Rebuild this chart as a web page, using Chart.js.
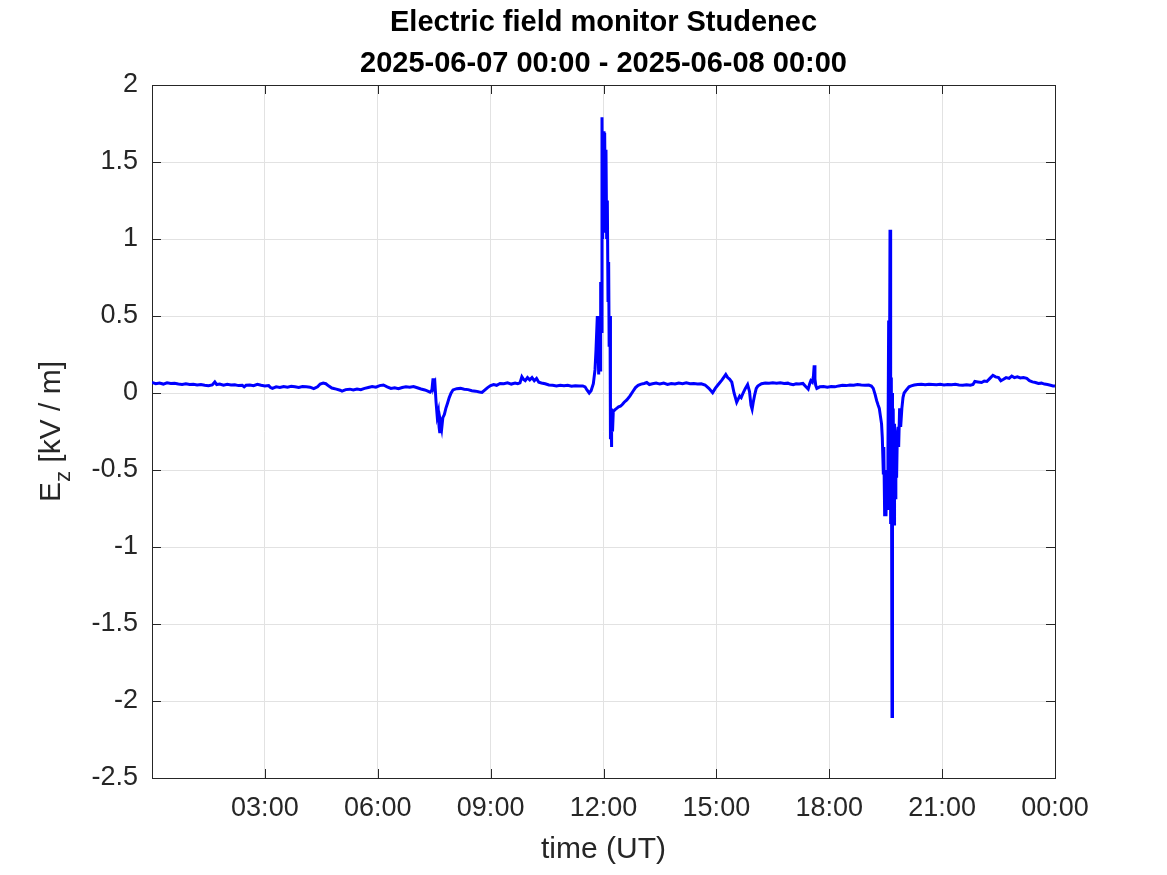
<!DOCTYPE html>
<html>
<head>
<meta charset="utf-8">
<script src="https://cdn.jsdelivr.net/npm/chart.js@4/dist/chart.umd.min.js"></script>
<style>
  html, body { margin: 0; padding: 0; background: #ffffff; }
  #wrap { width: 1167px; height: 875px; }
</style>
</head>
<body>
<div id="wrap"><canvas id="c" width="1167" height="875"></canvas></div>
<script>
// ---- data: [time in hours UT since 2025-06-07 00:00, Ez in kV/m] ----
const titleLines = ["Electric field monitor Studenec", "2025-06-07 00:00 - 2025-06-08 00:00"];
const xLabel = "time (UT)";
const yTickValues = [-2.5, -2, -1.5, -1, -0.5, 0, 0.5, 1, 1.5, 2];
const xTickHours = [3, 6, 9, 12, 15, 18, 21, 24];
const xTickLabels = ["03:00", "06:00", "09:00", "12:00", "15:00", "18:00", "21:00", "00:00"];

const nightSamples = [
  [0.0,.068],[0.1,.060],[0.2,.064],[0.3,.058],[0.4,.066],[0.5,.062],[0.6,.063],[0.7,.058],[0.8,.056],[0.9,.060],
  [1.0,.055],[1.1,.057],[1.2,.052],[1.3,.055],[1.4,.050],[1.5,.047],[1.6,.052],[1.67,.072],[1.72,.055],[1.8,.058],
  [1.9,.050],[2.0,.057],[2.1,.052],[2.2,.054],[2.3,.048],[2.4,.050],[2.45,.040],[2.5,.050],[2.6,.052],[2.7,.048],
  [2.8,.057],[2.9,.050],[3.0,.046],[3.1,.048],[3.15,.035],[3.2,.030],[3.3,.040],[3.4,.036],[3.5,.042],[3.6,.038],
  [3.7,.044],[3.8,.040],[3.9,.036],[4.0,.042],[4.1,.040],[4.2,.038],[4.3,.028],[4.4,.040],[4.47,.058],[4.55,.064],
  [4.62,.060],[4.7,.045],[4.78,.032],[4.9,.025],[5.0,.018],[5.05,.012],[5.15,.022],[5.26,.025],[5.35,.020],[5.45,.026],
  [5.55,.022],[5.65,.030],[5.75,.036],[5.85,.042],[5.95,.038],[6.05,.048],[6.15,.052],[6.25,.040],[6.35,.030],[6.45,.034],
  [6.55,.028],[6.65,.036],[6.75,.040],[6.85,.038],[6.95,.042],[7.05,.034],[7.15,.026],[7.25,.020],[7.33,.012],[7.39,.005]
];
const morningSamples = [
  [7.44,.020],[7.47,.095],[7.49,.040],[7.52,.060],[7.55,-.060],[7.58,-.150],[7.61,-.120],[7.63,-.220],[7.65,-.260],[7.67,-.190],
  [7.70,-.230],[7.73,-.160],[7.77,-.140],[7.81,-.100],[7.85,-.070],[7.90,-.030],[7.95,0.0],[8.00,.020],[8.10,.028],[8.20,.030],
  [8.30,.025],[8.40,.022],[8.50,.015],[8.60,.012],[8.70,.006],[8.77,.004],[8.85,.020],[8.92,.035],[9.00,.048],[9.08,.055],
  [9.16,.050],[9.25,.062],[9.35,.060],[9.45,.066],[9.55,.058],[9.65,.064],[9.72,.060],[9.78,.066],[9.83,.105],[9.87,.090],
  [9.92,.080],[9.98,.100],[10.04,.085],[10.10,.100],[10.16,.080],[10.22,.095],[10.28,.070],[10.35,.065],[10.45,.060],[10.55,.052],
  [10.65,.050],[10.75,.046],[10.85,.050],[10.95,.047],[11.05,.050],[11.15,.044],[11.25,.047],[11.35,.045],[11.45,.046],[11.51,.040],
  [11.56,.020],[11.62,.000],[11.67,.015],[11.73,.060]
];
const noonSamples = [
  [11.774,.15],[11.801,.28],[11.836,.50],[11.872,.12],[11.889,.50],[11.907,.15],[11.925,.72],[11.942,.40],[11.96,1.79],[11.978,1.00],
  [11.996,1.70],[12.013,1.04],[12.031,1.69],[12.048,1.20],[12.066,1.58],[12.084,1.00],[12.102,1.25],[12.12,.60],[12.137,.85],[12.15,.30],
  [12.173,.50],[12.18,.17],[12.19,-.30],[12.20,-.10],[12.21,-.35],[12.22,-.18],[12.24,-.25],[12.26,-.12],[12.30,-.11],[12.35,-.10],
  [12.40,-.09],[12.45,-.085],[12.50,-.075],[12.55,-.06],[12.62,-.045],[12.70,-.02],[12.78,.01],[12.85,.035],[12.92,.050],[13.0,.058],
  [13.08,.062],[13.15,.068],[13.22,.055],[13.30,.060],[13.40,.065],[13.50,.058],[13.60,.064],[13.70,.056],[13.80,.062],[13.90,.058],
  [14.00,.064],[14.10,.060],[14.20,.066],[14.30,.060],[14.40,.062],[14.50,.058],[14.60,.060],[14.70,.052]
];
const afternoonSamples = [
  [14.80,.030],[14.90,.002],[14.97,.030],[15.05,.055],[15.15,.085],[15.25,.120],[15.30,.100],[15.35,.090],[15.41,.070],[15.47,.000],
  [15.54,-.060],[15.58,-.040],[15.62,-.020],[15.66,-.030],[15.71,.000],[15.77,.030],[15.83,.055],[15.88,.010],[15.92,-.080],[15.95,-.105],
  [15.98,-.060],[16.02,-.010],[16.06,.030],[16.10,.045],[16.20,.060],[16.30,.065],[16.40,.064],[16.50,.066],[16.60,.064],[16.70,.066],
  [16.80,.062],[16.90,.064],[16.96,.058],[17.04,.054],[17.12,.060],[17.20,.058],[17.30,.062],[17.38,.040],[17.44,.025],[17.48,.060],
  [17.51,.080],[17.55,.070],[17.58,.110],[17.60,.180],[17.62,.090],[17.64,.050],[17.67,.030],[17.75,.040],[17.85,.042],[17.95,.038],
  [18.05,.042],[18.15,.040],[18.25,.046],[18.35,.050],[18.45,.048],[18.55,.052],[18.65,.050],[18.75,.055],[18.85,.052],[18.95,.050],
  [19.05,.052],[19.12,.045]
];
const eveningSamples = [
  [19.17,.030],[19.22,-.010],[19.26,-.050],[19.30,-.080],[19.33,-.100],[19.36,-.150],[19.39,-.200],[19.41,-.290],[19.437,-.520],[19.45,-.350],
  [19.473,-.800],[19.49,-.500],[19.508,-.800],[19.525,-.550],[19.544,-.750],[19.56,-.400],[19.579,.470],[19.59,-.700],[19.60,.000],[19.615,1.060],
  [19.624,-.750],[19.632,.590],[19.64,-.850],[19.65,.100],[19.668,-2.100],[19.676,.000],[19.686,-.890],[19.70,-.100],[19.721,-.850],[19.735,-.200],
  [19.756,-.680],[19.77,-.250],[19.79,-.550],[19.81,-.260],[19.83,-.220],[19.845,-.350],[19.87,-.100],[19.898,-.220],[19.93,-.100],[19.96,-.030],
  [19.99,.000],[20.05,.020],[20.12,.040],[20.18,.046],[20.26,.052],[20.35,.055],[20.45,.056],[20.55,.054],[20.65,.057],[20.75,.055],
  [20.85,.053],[20.95,.056],[21.05,.052],[21.15,.055],[21.25,.053],[21.35,.056],[21.45,.052],[21.55,.050],[21.65,.054],[21.75,.050],
  [21.82,.055],[21.87,.075],[21.95,.072],[22.05,.068],[22.12,.078],[22.19,.075],[22.27,.095],[22.35,.115],[22.42,.105],[22.50,.100],
  [22.56,.080],[22.62,.088],[22.70,.100],[22.78,.095],[22.85,.110],[22.92,.100],[23.00,.105],[23.08,.098],[23.16,.100],[23.25,.095],
  [23.32,.080],[23.40,.072],[23.48,.068],[23.56,.062],[23.64,.064],[23.72,.058],[23.80,.055],[23.88,.050],[23.95,.046],[24.00,.045]
];

const points = [].concat(nightSamples, morningSamples, noonSamples, afternoonSamples, eveningSamples)
  .map(p => ({ x: p[0], y: p[1] }));

const AX = '#262626';
const FONT = "'Liberation Sans', Arial, Helvetica, sans-serif";

const decor = {
  id: 'decor',
  afterDraw(chart) {
    const ctx = chart.ctx;
    const a = chart.chartArea;
    const xs = chart.scales.x, ys = chart.scales.y;
    ctx.save();
    ctx.strokeStyle = AX;
    ctx.lineWidth = 1;
    ctx.beginPath();
    ctx.moveTo(a.left + 0.5, a.top + 0.5);
    ctx.lineTo(a.right + 0.5, a.top + 0.5);
    ctx.lineTo(a.right + 0.5, a.bottom + 0.5);
    ctx.stroke();
    const tl = 9;
    ctx.beginPath();
    xTickHours.forEach(h => {
      const px = Math.round(xs.getPixelForValue(h)) + 0.5;
      ctx.moveTo(px, a.bottom); ctx.lineTo(px, a.bottom - tl);
      ctx.moveTo(px, a.top); ctx.lineTo(px, a.top + tl);
    });
    yTickValues.forEach(v => {
      const py = Math.round(ys.getPixelForValue(v)) + 0.5;
      ctx.moveTo(a.left, py); ctx.lineTo(a.left + tl, py);
      ctx.moveTo(a.right, py); ctx.lineTo(a.right - tl, py);
    });
    ctx.stroke();
    const cx = (a.left + a.right) / 2;
    ctx.fillStyle = '#000000';
    ctx.textAlign = 'center';
    ctx.textBaseline = 'middle';
    ctx.font = "bold 29px " + FONT;
    ctx.fillText(titleLines[0], cx, 23);
    ctx.fillText(titleLines[1], cx, 64);
    ctx.fillStyle = AX;
    ctx.font = "30px " + FONT;
    ctx.fillText(xLabel, cx, 850);
    const cy = (a.top + a.bottom) / 2;
    ctx.translate(52, cy);
    ctx.rotate(-Math.PI / 2);
    ctx.textAlign = 'left';
    ctx.textBaseline = 'middle';
    const f1 = "30px " + FONT, f2 = "22px " + FONT;
    ctx.font = f1; const wE = ctx.measureText("E").width;
    ctx.font = f2; const wZ = ctx.measureText("z").width;
    ctx.font = f1; const wR = ctx.measureText(" [kV / m]").width;
    const x0 = -(wE + wZ + wR) / 2;
    ctx.font = f1; ctx.fillText("E", x0, 0);
    ctx.font = f2; ctx.fillText("z", x0 + wE, 12);
    ctx.font = f1; ctx.fillText(" [kV / m]", x0 + wE + wZ, 0);
    ctx.restore();
  }
};

new Chart(document.getElementById('c'), {
  type: 'line',
  data: {
    datasets: [{
      data: points,
      borderColor: 'rgb(0,0,255)',
      borderWidth: 3,
      pointRadius: 0,
      tension: 0,
      fill: false,
      borderJoinStyle: 'miter'
    }]
  },
  options: {
    responsive: false,
    animation: false,
    layout: { padding: { top: 85, right: 112, left: 0, bottom: 0 } },
    plugins: { legend: { display: false }, title: { display: false }, tooltip: { enabled: false } },
    scales: {
      x: {
        type: 'linear', min: 0, max: 24,
        afterBuildTicks(s) { s.ticks = [0].concat(xTickHours).map(v => ({ value: v })); },
        afterFit(s) { s.height = 97; },
        ticks: {
          autoSkip: false, maxRotation: 0, minRotation: 0, padding: 14,
          color: AX, font: { family: FONT, size: 27 },
          callback: (v) => { const i = xTickHours.indexOf(v); return i < 0 ? '' : xTickLabels[i]; }
        },
        grid: { color: '#e2e2e2', lineWidth: 1, drawTicks: false },
        border: { display: true, color: AX, width: 1 }
      },
      y: {
        type: 'linear', min: -2.5, max: 2,
        afterBuildTicks(s) { s.ticks = yTickValues.map(v => ({ value: v })); },
        afterFit(s) { s.width = 152; },
        ticks: {
          autoSkip: false, padding: 14,
          color: AX, font: { family: FONT, size: 27 },
          callback: (v) => String(v)
        },
        grid: { color: '#e2e2e2', lineWidth: 1, drawTicks: false },
        border: { display: true, color: AX, width: 1 }
      }
    }
  },
  plugins: [decor]
});
</script>
</body>
</html>
